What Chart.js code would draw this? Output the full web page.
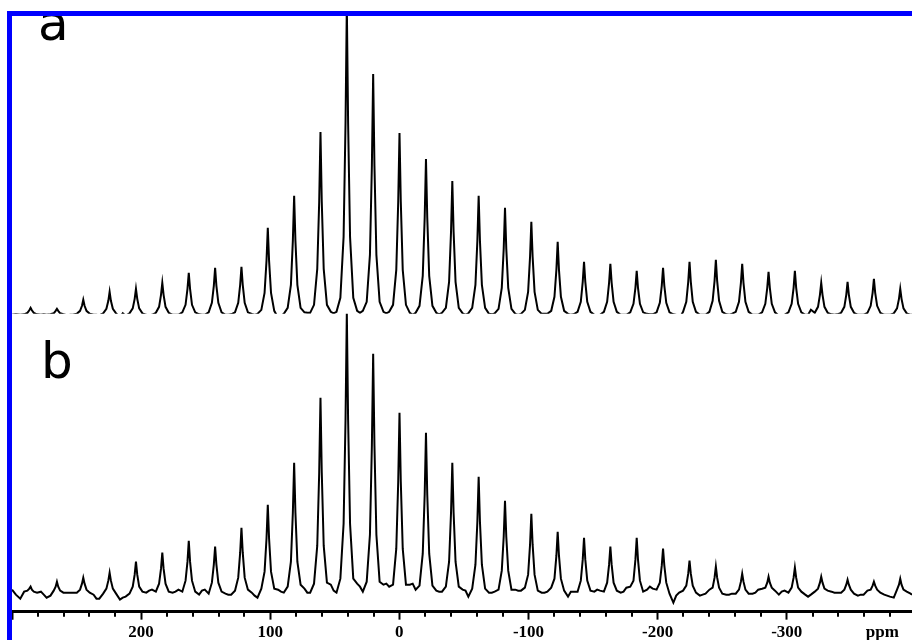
<!DOCTYPE html>
<html>
<head>
<meta charset="utf-8">
<script src="https://cdn.jsdelivr.net/npm/chart.js@4.4.1/dist/chart.umd.min.js"></script>
<style>
  html, body { margin: 0; padding: 0; background: #fff; overflow: hidden; width: 912px; height: 640px; }
  #frame { position: absolute; left: 7px; top: 11px; width: 920px; height: 650px;
           border-left: 5px solid #0000ff; border-top: 5px solid #0000ff; }
  #box { position: absolute; left: 12px; top: 16px; width: 900px; height: 630px; }
</style>
</head>
<body>
<div id="frame"></div>
<div id="box"><canvas id="myChart"></canvas></div>
<script>
/* panel letters and axis unit */
const panelLabels = ['a', 'b'];
const unitLabel = 'ppm';

/* chemical shift (ppm), one row per spinning sideband */
const ppm = [
  300, 297,
  293.6, 290.6, 288.1, 286.6, 285.6, 284.6, 283.1, 280.6, 277.6, 275.4,
  273.2, 270.2, 267.7, 266.2, 265.2, 264.2, 262.7, 260.2, 257.2, 255.0,
  252.8, 249.8, 247.3, 245.8, 244.8, 243.8, 242.3, 239.8, 236.8, 234.6,
  232.4, 229.4, 226.9, 225.4, 224.4, 223.4, 221.9, 219.4, 216.4, 214.2,
  212.0, 209.0, 206.5, 205.0, 204.0, 203.0, 201.5, 199.0, 196.0, 193.8,
  191.6, 188.6, 186.1, 184.6, 183.6, 182.6, 181.1, 178.6, 175.6, 173.4,
  171.1, 168.1, 165.6, 164.1, 163.1, 162.1, 160.6, 158.1, 155.1, 152.9,
  150.7, 147.7, 145.2, 143.7, 142.7, 141.7, 140.2, 137.7, 134.7, 132.5,
  130.3, 127.3, 124.8, 123.3, 122.3, 121.3, 119.8, 117.3, 114.3, 112.1,
  109.9, 106.9, 104.4, 102.9, 101.9, 100.9, 99.4, 96.9, 93.9, 91.7,
  89.5, 86.5, 84.0, 82.5, 81.5, 80.5, 79.0, 76.5, 73.5, 71.3,
  69.1, 66.1, 63.6, 62.1, 61.1, 60.1, 58.6, 56.1, 53.1, 50.9,
  48.7, 45.7, 43.2, 41.7, 40.7, 39.7, 38.2, 35.7, 32.7, 30.5,
  28.3, 25.3, 22.8, 21.3, 20.3, 19.3, 17.8, 15.3, 12.3, 10.1,
  7.9, 4.9, 2.4, 0.9, -0.1, -1.1, -2.6, -5.1, -8.1, -10.3,
  -12.6, -15.6, -18.1, -19.6, -20.6, -21.6, -23.1, -25.6, -28.6, -30.8,
  -33.0, -36.0, -38.5, -40.0, -41.0, -42.0, -43.5, -46.0, -49.0, -51.2,
  -53.4, -56.4, -58.9, -60.4, -61.4, -62.4, -63.9, -66.4, -69.4, -71.6,
  -73.8, -76.8, -79.3, -80.8, -81.8, -82.8, -84.3, -86.8, -89.8, -92.0,
  -94.2, -97.2, -99.7, -101.2, -102.2, -103.2, -104.7, -107.2, -110.2, -112.4,
  -114.6, -117.6, -120.1, -121.6, -122.6, -123.6, -125.1, -127.6, -130.6, -132.8,
  -135.0, -138.0, -140.5, -142.0, -143.0, -144.0, -145.5, -148.0, -151.0, -153.2,
  -155.4, -158.4, -160.9, -162.4, -163.4, -164.4, -165.9, -168.4, -171.4, -173.6,
  -175.8, -178.8, -181.3, -182.8, -183.8, -184.8, -186.3, -188.8, -191.8, -194.0,
  -196.2, -199.2, -201.7, -203.2, -204.2, -205.2, -206.7, -209.2, -212.2, -214.4,
  -216.7, -219.7, -222.2, -223.7, -224.7, -225.7, -227.2, -229.7, -232.7, -234.9,
  -237.1, -240.1, -242.6, -244.1, -245.1, -246.1, -247.6, -250.1, -253.1, -255.3,
  -257.5, -260.5, -263.0, -264.5, -265.5, -266.5, -268.0, -270.5, -273.5, -275.7,
  -277.9, -280.9, -283.4, -284.9, -285.9, -286.9, -288.4, -290.9, -293.9, -296.1,
  -298.3, -301.3, -303.8, -305.3, -306.3, -307.3, -308.8, -311.3, -314.3, -316.5,
  -318.7, -321.7, -324.2, -325.7, -326.7, -327.7, -329.2, -331.7, -334.7, -336.9,
  -339.1, -342.1, -344.6, -346.1, -347.1, -348.1, -349.6, -352.1, -355.1, -357.3,
  -359.5, -362.5, -365.0, -366.5, -367.5, -368.5, -370.0, -372.5, -375.5, -377.7,
  -379.9, -382.9, -385.4, -386.9, -387.9, -388.9, -390.4, -392.9, -395.9,
  -397
];

/* spectrum a intensity (arbitrary units) */
const intA = [
  0, 0.5,
  0, 0.5, 2, 4.5, 7, 4.5, 2, 0.5, 0, 0.5,
  0, 0.5, 1.5, 4, 6, 4, 1.5, 0.5, -0.5, 0,
  0, 1, 4, 9, 15, 9, 4, 1, 0, 0,
  -0.5, 1.5, 6, 14, 23, 14, 6, 1.5, -2.5, 1.5,
  -1, 1.5, 6.5, 16, 26, 16, 6.5, 1.5, 0, -0.5,
  0, 2, 8, 20, 32, 20, 8, 2, 0, 0,
  0, 2.5, 10, 26, 42, 26, 10, 2.5, 0.5, 0,
  0, 2.5, 12, 29, 47, 29, 12, 2.5, 0, 0,
  0.5, 2.5, 12, 30, 48, 30, 12, 2.5, 1, 0,
  1, 5, 22, 54, 87, 54, 22, 4, -3, -1,
  1, 7, 30, 74, 119, 74, 30, 7, 2.5, 2,
  2, 10, 46, 113, 183, 113, 46, 10, 3, 1.5,
  3, 17, 78, 192, 310, 192, 78, 17, 4, 2,
  4, 13, 60, 149, 241, 149, 60, 13, 3, 1.5,
  3, 10, 45, 113, 182, 113, 45, 10, 2, 0,
  2, 9, 39, 97, 156, 97, 39, 9, 2, 0.5,
  2, 7, 33, 83, 134, 83, 33, 7, 1.5, 0,
  1.5, 7, 30, 74, 119, 74, 30, 7, 1, 0.5,
  1.5, 6, 27, 66, 107, 66, 27, 6, 1, 0,
  1, 5, 23, 58, 93, 58, 23, 5, 1, 1,
  1, 4, 18, 45, 73, 45, 18, 4, 1, 0,
  0.5, 3, 13, 33, 53, 33, 13, 3, 0, -0.5,
  0, 3, 13, 32, 51, 32, 13, 3, 0, 0,
  0, 2.5, 11, 27, 44, 27, 11, 2.5, 1, 0.5,
  0.5, 2.5, 12, 29, 47, 29, 12, 2.5, 0.5, 0,
  -4, 3, 13, 33, 53, 33, 13, 3, 0, 0,
  0, 3, 14, 34, 55, 34, 14, 3, 0.5, 0,
  1, 3, 13, 32, 51, 32, 13, 3, 0, 0,
  0, 2.5, 11, 27, 43, 27, 11, 2.5, -1, -1.5,
  0, 2.5, 11, 27, 44, 27, 11, 2.5, 0, 0,
  5, 2, 8, 20, 32, 20, 8, 2, 0.5, 0,
  0.5, 2, 8, 20, 33, 20, 8, 2, 0, 0,
  0, 2, 9, 22, 36, 22, 9, 2, 0, 0,
  0, 1.5, 6.5, 16, 26, 16, 6.5, 1.5, 0,
  0
];

/* spectrum b intensity (arbitrary units) */
const intB = [
  5, 0,
  -4, 3, 4, 6, 8, 5, 3, 2, 3, 0,
  -3, -1, 4, 8, 13, 8, 4, 2, 2, 2,
  2, 2, 5, 11, 17, 11, 5, 2, 0, -4,
  -4, 1, 6, 14, 22, 14, 6, 1, -5, -3,
  -2, 1, 8, 20, 33, 20, 8, 3, 2, 4,
  5, 3, 11, 26, 42, 26, 11, 3, 2, 3,
  5, 3, 14, 33, 54, 33, 14, 3, 0, 4,
  5, 1, 12, 30, 48, 30, 12, 3, 1, 0,
  0, 4, 17, 42, 67, 42, 17, 5, 2, -1,
  -3, 6, 23, 56, 90, 56, 23, 6, 5, 3,
  2, 8, 33, 82, 132, 82, 33, 10, 6, 2,
  2, 11, 49, 122, 197, 122, 49, 12, 10, 4,
  2, 16, 71, 175, 283, 175, 71, 16, 11, 8,
  3, 13, 60, 149, 241, 149, 60, 13, 10, 11,
  8, 10, 46, 113, 182, 113, 46, 10, 10, 11,
  5, 9, 41, 100, 162, 100, 41, 9, 4, 3,
  3, 8, 33, 82, 132, 82, 33, 8, 5, 4,
  -2, 6, 30, 73, 118, 73, 30, 6, 2, 2,
  3, 5, 24, 58, 94, 58, 24, 5, 5, 4,
  4, 7, 20, 50, 81, 50, 20, 4, 2, 2,
  3, 7, 16, 39, 63, 39, 16, 4, -2, 3,
  3, 3, 14, 35, 57, 35, 14, 4, 3, 5,
  4, 3, 12, 30, 48, 30, 12, 4, 2, 3,
  7, 8, 14, 35, 57, 35, 14, 3, 5, 8,
  6, 5, 12, 29, 46, 29, 12, 1, -8, -1,
  2, 4, 9, 21, 34, 21, 9, 2, -1, 0,
  1, 5, 7, 17, 28, 17, 7, 1, 0, 0,
  1, 1, 5, 13, 21, 13, 5, 1, 1, 2,
  5, 6, 7, 12, 18, 12, 7, 4, 0, 3,
  4, 2, 7, 17, 27, 17, 7, 3, 0, -2,
  0, 3, 6, 12, 18, 12, 6, 4, 3, 2,
  2, 2, 5, 10, 15, 10, 5, 1, -1, 0,
  0, 4, 5, 9, 13, 9, 5, 2, 0, -1,
  -2, -3, 5, 10, 16, 10, 5, 3, 1,
  0
];

const tickFontSize = 17;
const tickLineHeight = 1.55;

/* minor ticks, unit label and panel letters */
const extras = {
  id: 'extras',
  afterDraw(chart) {
    const ctx = chart.ctx;
    const x = chart.scales.x;
    ctx.save();
    ctx.strokeStyle = '#000';
    ctx.lineWidth = 2;
    for (const t of x.ticks) {
      if (t.value % 100 !== 0) {
        const px = Math.round(x.getPixelForValue(t.value));
        ctx.beginPath();
        ctx.moveTo(px, x.top);
        ctx.lineTo(px, x.top + 5);
        ctx.stroke();
      }
    }
    ctx.fillStyle = '#000';
    ctx.font = 'bold ' + tickFontSize + 'px "Liberation Serif"';
    ctx.textAlign = 'center';
    ctx.textBaseline = 'middle';
    ctx.fillText(unitLabel, x.getPixelForValue(-374), x.top + 8 + tickFontSize * tickLineHeight / 2);

    ctx.font = '50px "DejaVu Sans"';
    ctx.textAlign = 'left';
    ctx.textBaseline = 'alphabetic';
    ctx.fillText(panelLabels[0], chart.chartArea.left + 26, chart.scales.yA.top + 24);
    ctx.fillText(panelLabels[1], chart.chartArea.left + 29, chart.scales.yB.top + 64);
    ctx.restore();
  }
};

const ctx = document.getElementById('myChart');
const myChart = new Chart(ctx, {
  type: 'line',
  data: {
    datasets: [{
      label: panelLabels[0],
      data: ppm.map((v, i) => ({ x: v, y: intA[i] })),
      yAxisID: 'yA',
      borderColor: '#000',
      borderWidth: 2,
      pointRadius: 0,
      tension: 0,
      fill: false
    }, {
      label: panelLabels[1],
      data: ppm.map((v, i) => ({ x: v, y: intB[i] })),
      yAxisID: 'yB',
      borderColor: '#000',
      borderWidth: 2,
      pointRadius: 0,
      tension: 0,
      fill: false
    }]
  },
  options: {
    responsive: true,
    maintainAspectRatio: false,
    animation: false,
    layout: { padding: 0 },
    plugins: {
      legend: { display: false },
      tooltip: { enabled: false }
    },
    scales: {
      x: {
        type: 'linear',
        position: 'bottom',
        reverse: true,
        min: -397,
        max: 300,
        grid: {
          drawOnChartArea: false,
          drawTicks: true,
          tickLength: 8,
          tickWidth: 2,
          tickColor: (c) => (c.tick && c.tick.value % 100 === 0) ? '#000' : 'rgba(0,0,0,0)'
        },
        border: { display: true, color: '#000', width: 3 },
        ticks: {
          stepSize: 20,
          includeBounds: false,
          autoSkip: false,
          maxRotation: 0,
          padding: 0,
          color: '#000',
          font: { family: '"Liberation Serif", "Times New Roman", serif', size: tickFontSize, weight: 'bold', lineHeight: tickLineHeight },
          callback: function (value) {
            return (value % 100 === 0 && value !== this.max) ? String(value) : '';
          }
        }
      },
      yA: { type: 'linear', position: 'left', stack: 'spec', stackWeight: 1, weight: 2, min: 1, max: 299, display: false },
      yB: { type: 'linear', position: 'left', stack: 'spec', stackWeight: 1, weight: 1, min: -17, max: 281, display: false }
    }
  },
  plugins: [extras]
});
</script>
</body>
</html>
